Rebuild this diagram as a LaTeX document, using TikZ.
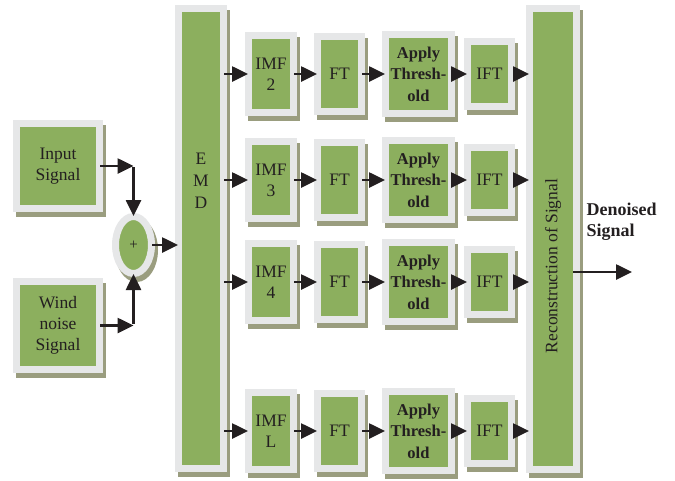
\documentclass[tikz,border=0pt]{standalone}
\usepackage{fontspec}
\setmainfont{Liberation Serif}
\usetikzlibrary{arrows.meta,shapes.geometric,shadows}
\definecolor{boxgreen}{HTML}{8CAF5E}
\definecolor{boxrim}{HTML}{E6E7E8}
\definecolor{boxshade}{HTML}{9A9D7F}
\definecolor{ink}{HTML}{231F20}

\begin{document}
\begin{tikzpicture}[x=1pt, y=-1pt,
	every node/.style={font=\fontsize{17.5}{21}\selectfont, text=ink},
	blk/.style={draw=boxrim, fill=boxgreen, line width=7pt, inner sep=1pt, align=center,
		drop shadow={shadow xshift=3pt, shadow yshift=-5pt, draw=boxshade, fill=boxshade, line width=7pt, opacity=1}},
	imfbox/.style={blk, minimum width=45pt, minimum height=77pt},
	ftbox/.style={blk, minimum width=44pt, minimum height=75pt},
	thrbox/.style={blk, minimum width=66pt, minimum height=79pt, font=\fontsize{16.5}{21.5}\selectfont\bfseries},
	iftbox/.style={blk, minimum width=44pt, minimum height=65pt},
	arr/.style={draw=ink, line width=2.6pt, shorten <=-3pt, shorten >=-3pt, -{Triangle[length=16pt, width=15pt]}}]
	\useasboundingbox (0,0) rectangle (675,480);
	% sources and adder
	\node[blk, minimum width=83pt, minimum height=85pt] (input) at (58,166) {Input\\Signal};
	\node[blk, minimum width=83pt, minimum height=88pt] (wind) at (58,325.5) {Wind\\noise\\Signal};
	\node[blk, ellipse, minimum width=36pt, minimum height=57pt, inner sep=0pt, font=\fontsize{15}{15}\selectfont] (sum) at (133.5,245) {+};
	\coordinate (jin) at (sum |- input);
	\coordinate (jwind) at (sum |- wind);
	\draw[arr, shorten >=0pt] (input) -- (jin);
	\draw[arr, shorten <=1.3pt] (jin) -- (sum);
	\draw[arr, shorten >=0pt] (wind) -- (jwind);
	\draw[arr, shorten <=1.3pt] (jwind) -- (sum);
	% decomposition and reconstruction
	\node[blk, minimum width=45pt, minimum height=460pt] (emd) at (201,238.5) {};
	\node[align=center, font=\fontsize{17.5}{22}\selectfont] (emdtxt) at (201,181) {E\\M\\D};
	\node[blk, minimum width=47pt, minimum height=461pt] (recon) at (553,239) {};
	\node[rotate=90] (recontxt) at (553,266) {Reconstruction of Signal};
	\draw[arr] (sum.east) -- (sum.east -| emd.west);
	% row IMF 2
	\node[imfbox] (imf2) at (271,74) {IMF\\2};
	\node[ftbox] (ft2) at (339.5,74) {FT};
	\node[thrbox] (thr2) at (418.5,74) {Apply\\Thresh-\\old};
	\node[iftbox] (ift2) at (489.5,74) {IFT};
	\draw[arr] (emd.east |- imf2) -- (imf2);
	\draw[arr] (imf2) -- (ft2);
	\draw[arr] (ft2) -- (thr2);
	\draw[arr] (thr2) -- (ift2);
	\draw[arr] (ift2) -- (ift2 -| recon.west);
	% row IMF 3
	\node[imfbox] (imf3) at (271,180) {IMF\\3};
	\node[ftbox] (ft3) at (339.5,180) {FT};
	\node[thrbox] (thr3) at (418.5,180) {Apply\\Thresh-\\old};
	\node[iftbox] (ift3) at (489.5,180) {IFT};
	\draw[arr] (emd.east |- imf3) -- (imf3);
	\draw[arr] (imf3) -- (ft3);
	\draw[arr] (ft3) -- (thr3);
	\draw[arr] (thr3) -- (ift3);
	\draw[arr] (ift3) -- (ift3 -| recon.west);
	% row IMF 4
	\node[imfbox] (imf4) at (271,282) {IMF\\4};
	\node[ftbox] (ft4) at (339.5,282) {FT};
	\node[thrbox] (thr4) at (418.5,282) {Apply\\Thresh-\\old};
	\node[iftbox] (ift4) at (489.5,282) {IFT};
	\draw[arr] (emd.east |- imf4) -- (imf4);
	\draw[arr] (imf4) -- (ft4);
	\draw[arr] (ft4) -- (thr4);
	\draw[arr] (thr4) -- (ift4);
	\draw[arr] (ift4) -- (ift4 -| recon.west);
	% row IMF L
	\node[imfbox] (imfL) at (271,431) {IMF\\L};
	\node[ftbox] (ftL) at (339.5,431) {FT};
	\node[thrbox] (thrL) at (418.5,431) {Apply\\Thresh-\\old};
	\node[iftbox] (iftL) at (489.5,431) {IFT};
	\draw[arr] (emd.east |- imfL) -- (imfL);
	\draw[arr] (imfL) -- (ftL);
	\draw[arr] (ftL) -- (thrL);
	\draw[arr] (thrL) -- (iftL);
	\draw[arr] (iftL) -- (iftL -| recon.west);
	% output
	\coordinate (out) at (629,272);
	\draw[arr, shorten <=-7pt] (recon.east |- out) -- (out);
	\node[anchor=west, align=left, font=\fontsize{18}{21}\selectfont\bfseries] (dentxt) at (583,222) {Denoised\\Signal};
\end{tikzpicture}
\end{document}
